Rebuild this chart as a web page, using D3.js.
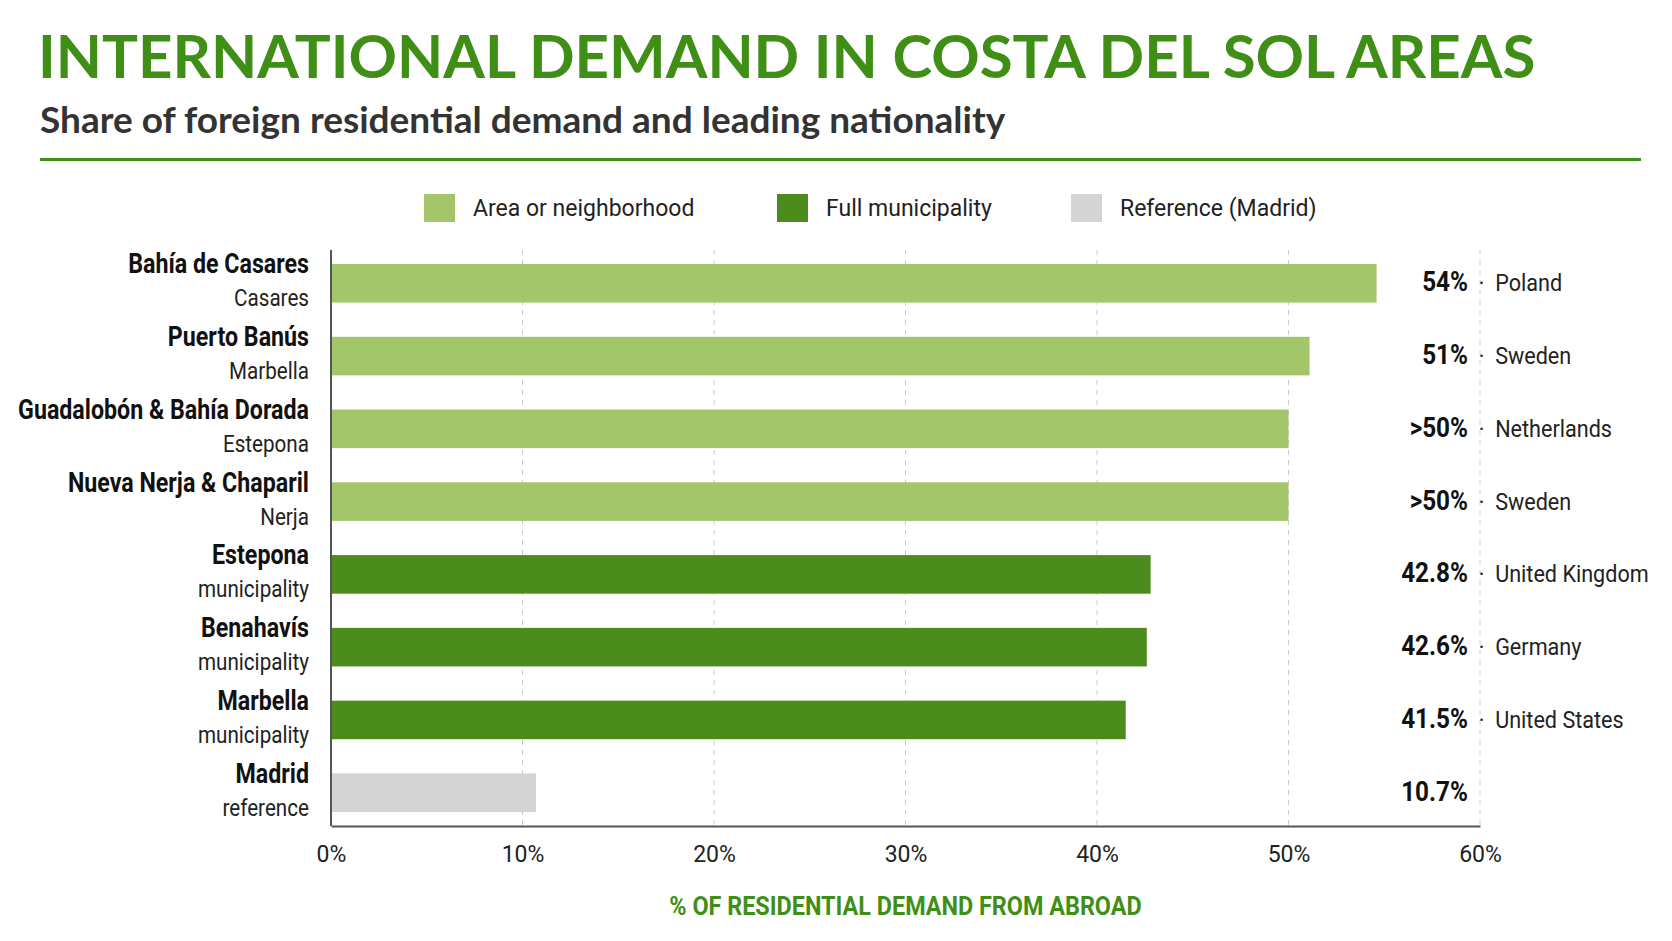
<!DOCTYPE html>
<html><head><meta charset="utf-8">
<script src="https://cdn.jsdelivr.net/npm/d3@7"></script>
<style>body{margin:0;background:#fff;font-family:Roboto,"Noto Sans",sans-serif}</style>
</head><body><svg id="c" width="1672" height="941"></svg>
<script>
const names = ["Bahía de Casares","Puerto Banús","Guadalobón & Bahía Dorada","Nueva Nerja & Chaparil","Estepona","Benahavís","Marbella","Madrid"];
const subs = ["Casares","Marbella","Estepona","Nerja","municipality","municipality","municipality","reference"];
const values = [54.6,51.1,50,50,42.8,42.6,41.5,10.7];
const valueLabels = ["54%","51%",">50%",">50%","42.8%","42.6%","41.5%","10.7%"];
const nationalities = ["Poland","Sweden","Netherlands","Sweden","United Kingdom","Germany","United States",""];
const types = ["area","area","area","area","muni","muni","muni","ref"];
const ticks = [0,10,20,30,40,50,60];
const legend = [["area","Area or neighborhood"],["muni","Full municipality"],["ref","Reference (Madrid)"]];

const colors = {area:"#a3c66b",muni:"#4b8c1d",ref:"#d4d4d4"};
const svg = d3.select("#c");
const green = "#3f8f16";

svg.append("text").attr("x",38).attr("y",78).attr("fill",green)
  .style("font-size","60px").style("font-weight","700").style("font-family","Lato,Roboto,sans-serif")
  .text("INTERNATIONAL DEMAND IN COSTA DEL SOL AREAS");
svg.append("text").attr("x",40).attr("y",133).attr("fill","#333")
  .style("font-size","37px").style("font-weight","700").style("font-family","Lato,Roboto,sans-serif")
  .text("Share of foreign residential demand and leading nationality");
svg.append("rect").attr("x",40).attr("y",158).attr("width",1601).attr("height",3).attr("fill",green);

// legend
const lx = [424,777,1071];
legend.forEach(([k,t],i)=>{
  svg.append("rect").attr("x",lx[i]).attr("y",194).attr("width",31).attr("height",28).attr("fill",colors[k]);
  svg.append("text").attr("x",lx[i]+49).attr("y",216).attr("fill","#222").style("font-size","23px").text(t);
});

const x = d3.scaleLinear().domain([0,60]).range([331,1480]);
const y = d3.scaleBand().domain(d3.range(names.length)).range([248,828]).paddingInner(0.47).paddingOuter(0.22);

const grid = svg.append("g");
grid.selectAll("line").data(ticks.slice(1)).join("line")
  .attr("x1",d=>x(d)).attr("x2",d=>x(d)).attr("y1",250).attr("y2",826)
  .attr("stroke","#ccc").attr("stroke-dasharray","5,5");

svg.append("g").selectAll("rect").data(values).join("rect")
  .attr("x",x(0)).attr("y",(d,i)=>y(i)).attr("width",d=>x(d)-x(0)).attr("height",y.bandwidth())
  .attr("fill",(d,i)=>colors[types[i]]);

const ax = svg.append("g").attr("transform","translate(0,826)")
  .call(d3.axisBottom(x).tickValues(ticks).tickFormat(d=>d+"%").tickSize(0).tickPadding(20));
ax.select(".domain").attr("stroke","#555").attr("stroke-width",2);
ax.selectAll("text").style("font-size","23px").attr("fill","#222").style("font-family","Roboto,sans-serif");
svg.append("line").attr("x1",331).attr("x2",331).attr("y1",250).attr("y2",826).attr("stroke","#555").attr("stroke-width",2);

// category labels (condensed)
const lab = svg.append("g").selectAll("g").data(names).join("g")
  .attr("transform",(d,i)=>`translate(309,${y(i)+y.bandwidth()/2}) scale(0.86,1)`);
lab.append("text").attr("text-anchor","end").attr("y",-10).style("font-size","27px").style("font-weight","700").attr("fill","#111").text(d=>d);
lab.append("text").attr("text-anchor","end").attr("y",23).style("font-size","24px").attr("fill","#222").text((d,i)=>subs[i]);

// value labels
const vl = svg.append("g").selectAll("g").data(valueLabels).join("g")
  .attr("transform",(d,i)=>`translate(1468,${y(i)+y.bandwidth()/2+8}) scale(0.9,1)`);
vl.append("text").attr("text-anchor","end").style("font-size","27px").style("font-weight","700").attr("fill","#111").text(d=>d);
vl.append("text").attr("x",12).style("font-size","24px").attr("fill","#222").attr("xml:space","preserve")
  .text((d,i)=>nationalities[i] ? "·  "+nationalities[i] : "");

svg.append("text").attr("x",x(30)).attr("y",915).attr("text-anchor","middle").attr("fill",green)
  .attr("transform",`translate(${x(30)*0.1},0) scale(0.9,1)`)
  .style("font-size","26px").style("font-weight","700").text("% OF RESIDENTIAL DEMAND FROM ABROAD");
</script></body></html>
